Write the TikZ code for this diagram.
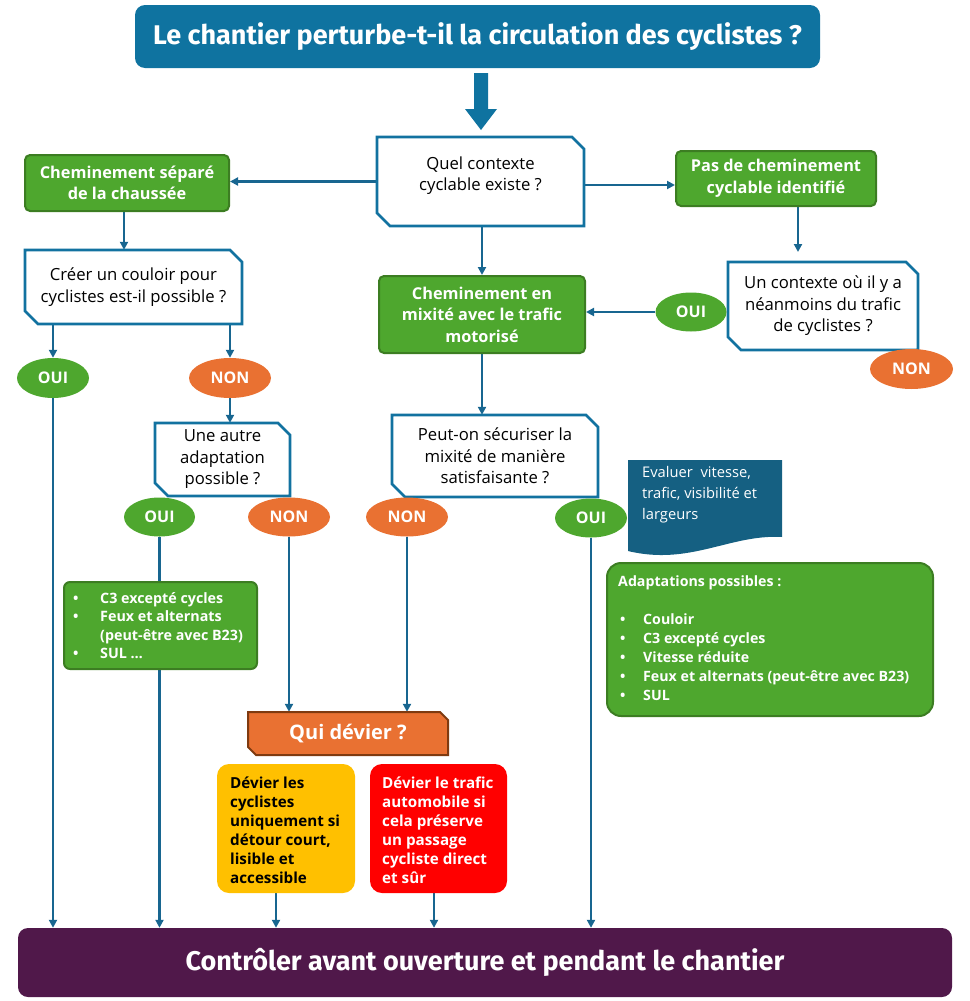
\documentclass[tikz,border=0pt]{standalone}
\usepackage{fontspec}
\setmainfont{Open Sans}
\newfontfamily\condfont{Fira Sans}
\usetikzlibrary{arrows.meta,shapes.geometric,backgrounds}
\definecolor{titleblue}{HTML}{0F73A0}
\definecolor{qblue}{HTML}{1272A0}
\definecolor{arrowcol}{HTML}{186690}
\definecolor{boxgreen}{HTML}{4EA72E}
\definecolor{greenborder}{HTML}{3C7D22}
\definecolor{orangec}{HTML}{E97132}
\definecolor{quiborder}{HTML}{7F3A10}
\definecolor{docblue}{HTML}{156082}
\definecolor{yellowc}{HTML}{FFC000}
\definecolor{redc}{HTML}{FF0000}
\definecolor{purplec}{HTML}{50184A}
\tikzset{
  arr/.style={draw=arrowcol, line width=2.2pt, -{Triangle[length=8pt,width=8pt]}},
  greenbox/.style={rectangle, rounded corners=5pt, fill=boxgreen, draw=greenborder, line width=2pt, text=white, font=\bfseries\fontsize{16.3}{21.5}\selectfont, align=center, inner sep=0pt},
  qtext/.style={font=\fontsize{16.7}{21.5}\selectfont, align=center, inner sep=0pt},
  chamf/.style={draw=qblue, line width=2.6pt, fill=white, line join=miter},
  ouist/.style={ellipse, fill=boxgreen, text=white, font=\bfseries\fontsize{16}{16}\selectfont, inner sep=0pt, minimum width=72pt, minimum height=40pt},
  nonst/.style={ellipse, fill=orangec, text=white, font=\bfseries\fontsize{16}{16}\selectfont, inner sep=0pt, minimum width=82pt, minimum height=40pt},
  boxtext/.style={anchor=north west, inner sep=0pt, align=left, font=\bfseries\fontsize{15.2}{19}\selectfont},
}
% chamfered box: name, cx, cy, w, h, text
\newcommand{\chbox}[6]{%
  \draw[chamf] ({#2-#4/2},{#3-#5/2}) -- ({#2+#4/2-12},{#3-#5/2}) -- ({#2+#4/2},{#3-#5/2+12}) -- ({#2+#4/2},{#3+#5/2}) -- ({#2-#4/2+13},{#3+#5/2}) -- ({#2-#4/2},{#3+#5/2-13}) -- cycle;
  \node[qtext, minimum width=#4pt, minimum height=#5pt] (#1) at (#2,#3) {#6};
}
\begin{document}
\begin{tikzpicture}[x=1pt,y=-1pt]
\useasboundingbox (0,0) rectangle (969,1001);

% title
\node[rectangle, rounded corners=10pt, fill=titleblue, minimum width=685pt, minimum height=63pt, inner sep=0pt, text=white, font=\condfont\bfseries\fontsize{27}{27}\selectfont] (title) at (477.5,36.5) {Le chantier perturbe-t-il la circulation des cyclistes ?};
\fill[titleblue] (474,73) -- (488,73) -- (488,109) -- (497,109) -- (481,130) -- (465,109) -- (474,109) -- cycle;

% questions
\chbox{quel}{480.5}{181.5}{207}{89}{Quel contexte\\cyclable existe ?\\[-6pt]}
\chbox{creer}{133.5}{287}{217}{74}{Créer un couloir pour\\cyclistes est-il possible ?}
\chbox{uncont}{823}{306}{190}{88}{Un contexte où il y a\\néanmoins du trafic\\de cyclistes ?}
\chbox{autre}{222.5}{459.5}{135}{73}{Une autre\\adaptation\\possible ?}
\chbox{peut}{495}{456}{206}{82}{Peut-on sécuriser la\\mixité de manière\\satisfaisante ?}

% green boxes
\node[greenbox, minimum width=204pt, minimum height=56pt] (sep) at (127,183) {Cheminement séparé\\de la chaussée};
\node[greenbox, minimum width=200pt, minimum height=55pt] (pas) at (776,178.5) {Pas de cheminement\\cyclable identifié};
\node[greenbox, minimum width=206pt, minimum height=77pt] (mix) at (482,314.5) {Cheminement en\\mixité avec le trafic\\motorisé};

% ellipses
\node[ouist] (oui1) at (53,378) {OUI};
\node[nonst] (non1) at (230,378) {NON};
\node[ouist, minimum width=71pt, minimum height=39pt] (oui2) at (159.5,517) {OUI};
\node[nonst, minimum height=39pt] (non2) at (289,517) {NON};
\node[nonst, minimum height=39pt] (non3) at (407,517) {NON};
\node[ouist, minimum height=39pt] (oui3) at (591,518) {OUI};
\node[ouist, minimum width=71pt, minimum height=39pt] (oui4) at (691,312) {OUI};
\node[nonst, minimum width=83pt] (non4) at (911.5,369) {NON};

% lists
\node[rectangle, rounded corners=6pt, fill=boxgreen, draw=greenborder, line width=2pt, minimum width=193pt, minimum height=87pt, inner sep=0pt] (list) at (160.5,625.5) {};
\node[anchor=north west, inner sep=0pt, align=left, text=white, font=\bfseries\fontsize{14.3}{18.5}\selectfont] (listtxt) at (73,592) {\makebox[27pt][l]{•}C3 excepté cycles\\\makebox[27pt][l]{•}Feux et alternats\\\makebox[27pt][l]{}(peut-être avec B23)\\\makebox[27pt][l]{•}SUL …};

\draw[fill=docblue, draw=none] (628,460) -- (782,460) -- (782,537) .. controls (730,534) and (690,566) .. (628,551) -- cycle;
\node[anchor=north west, inner sep=0pt, align=left, text=white, font=\fontsize{14.7}{21}\selectfont] (eval) at (642,466) {Evaluer\ \ vitesse,\\trafic, visibilité et\\largeurs};

\node[rectangle, rounded corners=14pt, fill=boxgreen, draw=greenborder, line width=2pt, minimum width=326pt, minimum height=153pt, inner sep=0pt] (adapt) at (770,639.5) {};
\node[anchor=north west, inner sep=0pt, align=left, text=white, font=\bfseries\fontsize{14.2}{19}\selectfont] (adapttxt) at (618,576) {Adaptations possibles :\\[19pt]\makebox[25pt][l]{\hspace{2pt}•}Couloir\\\makebox[25pt][l]{\hspace{2pt}•}C3 excepté cycles\\\makebox[25pt][l]{\hspace{2pt}•}Vitesse réduite\\\makebox[25pt][l]{\hspace{2pt}•}Feux et alternats (peut-être avec B23)\\\makebox[25pt][l]{\hspace{2pt}•}SUL};

% qui devier
\draw[fill=orangec, draw=quiborder, line width=2pt, line join=miter] (248,712) -- (440,712) -- (448,720) -- (448,755) -- (256,755) -- (248,747) -- cycle;
\node[inner sep=0pt, minimum width=200pt, minimum height=43pt, text=white, font=\bfseries\fontsize{20}{20}\selectfont] (qui) at (348,733.5) {Qui dévier ?};

% deviation boxes
\node[rectangle, rounded corners=12pt, fill=yellowc, minimum width=138pt, minimum height=129pt, inner sep=0pt] (yel) at (286,828.5) {};
\node[boxtext] (yeltxt) at (230,777) {Dévier les\\cyclistes\\uniquement si\\détour court,\\lisible et\\accessible};
\node[rectangle, rounded corners=12pt, fill=redc, minimum width=137pt, minimum height=129pt, inner sep=0pt] (red) at (438.5,828.5) {};
\node[boxtext, text=white] (redtxt) at (382,777) {Dévier le trafic\\automobile si\\cela préserve\\un passage\\cycliste direct\\et sûr};

% bottom
\node[rectangle, rounded corners=10pt, fill=purplec, minimum width=934pt, minimum height=69pt, inner sep=0pt, text=white, font=\condfont\bfseries\fontsize{27}{27}\selectfont] (bottom) at (485,962.5) {Contrôler avant ouverture et pendant le chantier};

% connectors
\begin{scope}[on background layer]
\draw[arr] (quel.west) -- (quel.west -| sep.east);
\draw[arr] ([yshift=-3.5pt]quel.east) -- ([yshift=-3.5pt]quel.east -| pas.west);
\draw[arr] ([xshift=-3pt]sep.south) -- ([xshift=-3pt]sep.south |- creer.north);
\draw[arr] (oui1 |- creer.south) -- (oui1.north);
\draw[arr] (non1 |- creer.south) -- (non1.north);
\draw[arr] (oui1.south) -- (oui1 |- bottom.north);
\draw[arr] (non1.south) -- (non1.south |- autre.north);
\draw[arr] (oui2.south) -- (oui2 |- bottom.north);
\draw[arr] (non2.south) -- (non2.south |- qui.north);
\draw[arr] (mix.north |- quel.south) -- (mix.north);
\draw[arr] ([xshift=22pt]pas.south) -- ([xshift=22pt]pas.south |- 0,252);
\draw[arr] (oui4.west) -- (oui4.west -| mix.east);
\draw[arr] (mix.south) -- (mix.south |- peut.north);
\draw[arr] (non3.south) -- (non3.south |- qui.north);
\draw[arr] (oui3.south) -- (oui3.south |- bottom.north);
\draw[arr] ([xshift=-10pt]yel.south) -- ([xshift=-10pt]yel.south |- bottom.north);
\draw[arr] ([xshift=-4.5pt]red.south) -- ([xshift=-4.5pt]red.south |- bottom.north);
\end{scope}
\end{tikzpicture}
\end{document}
